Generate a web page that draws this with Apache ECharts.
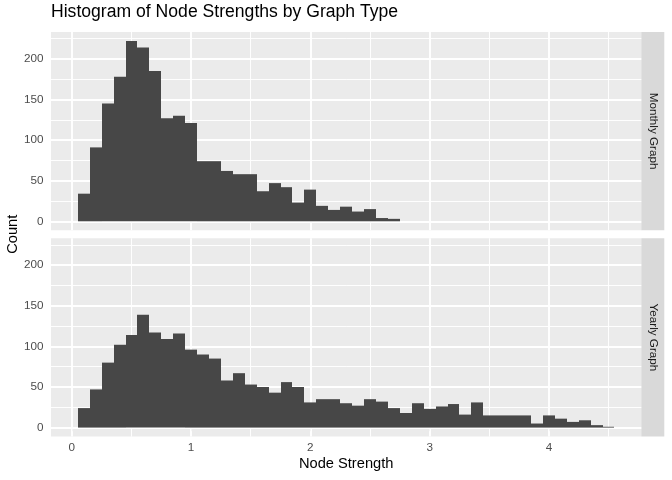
<!DOCTYPE html>
<html>
<head>
<meta charset="utf-8">
<script src="https://cdn.jsdelivr.net/npm/echarts@6/dist/echarts.min.js"></script>
<style>
  html, body { margin: 0; padding: 0; background: #fff; }
  #chart { width: 672px; height: 480px; }
</style>
</head>
<body>
<div id="chart"></div>
<script>
// histogram bins (centre of each 0.1 wide bin)
const binCenters = [
  0.1, 0.2, 0.3, 0.4, 0.5, 0.6, 0.7, 0.8, 0.9, 1.0,
  1.1, 1.2, 1.3, 1.4, 1.5, 1.6, 1.7, 1.8, 1.9, 2.0,
  2.1, 2.2, 2.3, 2.4, 2.5, 2.6, 2.7, 2.8, 2.9, 3.0,
  3.1, 3.2, 3.3, 3.4, 3.5, 3.6, 3.7, 3.8, 3.9, 4.0,
  4.1, 4.2, 4.3, 4.4, 4.5
];
const binWidth = 0.1;

const monthlyCounts = [
  34, 91, 145, 178, 222, 214, 185, 127, 130, 121,
  74, 74, 62, 58, 58, 37, 47, 42, 23, 39,
  19, 14, 18, 12, 15, 4, 3
];
const yearlyCounts = [
  24, 47, 80, 102, 114, 139, 117, 109, 116, 96,
  90, 85, 58, 67, 53, 50, 43, 56, 50, 31,
  35, 35, 30, 27, 35, 32, 24, 18, 30, 23,
  26, 29, 16, 31, 15, 15, 15, 15, 5, 15,
  11, 7, 9, 3, 1
];

const facetLabels = ['Monthly Graph', 'Yearly Graph'];
const xTicks = [0, 1, 2, 3, 4];
const xMinorBreaks = [0.5, 1.5, 2.5, 3.5, 4.5];
const yTicks = [0, 50, 100, 150, 200];
const yMinorBreaks = [25, 75, 125, 175, 225];
const xRange = [-0.175, 4.775];
const yRange = [-11.1, 233.1];

// layout
const FONT = '"Liberation Sans", Arial, Helvetica, sans-serif';
const panelLeft = 51;
const panelWidth = 590.3;
const panelHeight = 198.3;
const panelTops = [32, 238.3];
const stripWidth = 23;
const barColor = '#474747';

const chart = echarts.init(document.getElementById('chart'));

const facets = [monthlyCounts, yearlyCounts];

const grids = panelTops.map(top => ({
  left: panelLeft,
  top: top,
  width: panelWidth,
  height: panelHeight,
  show: true,
  backgroundColor: '#ebebeb',
  borderWidth: 0
}));

const xAxes = facets.map((_, i) => ({
  type: 'value',
  gridIndex: i,
  min: xRange[0],
  max: xRange[1],
  axisLine: { show: false },
  splitLine: { show: false },
  axisTick: {
    show: i === 1,
    customValues: xTicks,
    length: 3.7,
    lineStyle: { color: '#333333', width: 1 }
  },
  axisLabel: {
    show: i === 1,
    customValues: xTicks,
    margin: 5.5,
    fontSize: 11.7,
    color: '#4d4d4d',
    fontFamily: FONT
  },
  name: i === 1 ? 'Node Strength' : '',
  nameLocation: 'middle',
  nameGap: 20,
  nameTextStyle: { fontSize: 14.67, color: '#000', fontFamily: FONT }
}));

const yAxes = facets.map((_, i) => ({
  type: 'value',
  gridIndex: i,
  min: yRange[0],
  max: yRange[1],
  axisLine: { show: false },
  splitLine: { show: false },
  axisTick: {
    show: true,
    customValues: yTicks,
    length: 3.7,
    lineStyle: { color: '#333333', width: 1 }
  },
  axisLabel: {
    customValues: yTicks,
    margin: 7.5,
    fontSize: 11.7,
    color: '#4d4d4d',
    fontFamily: FONT
  }
}));

// panel grid lines, drawn under the bars
const gridLineData = [].concat(
  xTicks.map(v => ({ xAxis: v, lineStyle: { width: 1.9 } })),
  xMinorBreaks.map(v => ({ xAxis: v, lineStyle: { width: 0.95 } })),
  yTicks.map(v => ({ yAxis: v, lineStyle: { width: 1.9 } })),
  yMinorBreaks.map(v => ({ yAxis: v, lineStyle: { width: 0.95 } }))
);

const series = [];
facets.forEach((counts, i) => {
  series.push({
    type: 'line',
    data: [],
    xAxisIndex: i,
    yAxisIndex: i,
    silent: true,
    z: 1,
    markLine: {
      silent: true,
      z: 1,
      symbol: 'none',
      animation: false,
      label: { show: false },
      lineStyle: { color: '#ffffff', type: 'solid' },
      emphasis: { disabled: true },
      data: gridLineData
    }
  });
  series.push({
    type: 'custom',
    xAxisIndex: i,
    yAxisIndex: i,
    z: 2,
    data: counts.map((c, k) => [binCenters[k], c]),
    renderItem(params, api) {
      const x = api.value(0);
      const topLeft = api.coord([x - binWidth / 2, api.value(1)]);
      const bottomRight = api.coord([x + binWidth / 2, 0]);
      // snap to whole pixels so adjacent bins meet without seams
      const x0 = Math.round(topLeft[0]);
      const x1 = Math.round(bottomRight[0]);
      return {
        type: 'rect',
        shape: {
          x: x0,
          y: topLeft[1],
          width: x1 - x0,
          height: bottomRight[1] - topLeft[1]
        },
        style: { fill: barColor }
      };
    }
  });
});

// facet strips on the right + shared y title
const graphics = [];
panelTops.forEach((top, i) => {
  graphics.push({
    type: 'rect',
    shape: { x: panelLeft + panelWidth, y: top, width: stripWidth, height: panelHeight },
    style: { fill: '#d9d9d9' },
    silent: true
  });
  graphics.push({
    type: 'text',
    x: panelLeft + panelWidth + stripWidth / 2,
    y: top + panelHeight / 2,
    rotation: -Math.PI / 2,
    style: {
      text: facetLabels[i],
      fontSize: 11.7,
      fontFamily: FONT,
      fill: '#1a1a1a',
      align: 'center',
      verticalAlign: 'middle'
    },
    silent: true
  });
});
graphics.push({
  type: 'text',
  x: 12.5,
  y: (panelTops[0] + panelTops[1] + panelHeight) / 2,
  rotation: Math.PI / 2,
  style: {
    text: 'Count',
    fontSize: 14.67,
    fontFamily: FONT,
    fill: '#000',
    align: 'center',
    verticalAlign: 'middle'
  },
  silent: true
});

const option = {
  animation: false,
  backgroundColor: '#ffffff',
  title: {
    text: 'Histogram of Node Strengths by Graph Type',
    left: panelLeft,
    top: 3,
    padding: 0,
    textStyle: { fontSize: 17.6, fontWeight: 'normal', color: '#000', fontFamily: FONT }
  },
  grid: grids,
  xAxis: xAxes,
  yAxis: yAxes,
  series: series,
  graphic: graphics
};

chart.setOption(option);

window.addEventListener('resize', () => chart.resize());
</script>
</body>
</html>
